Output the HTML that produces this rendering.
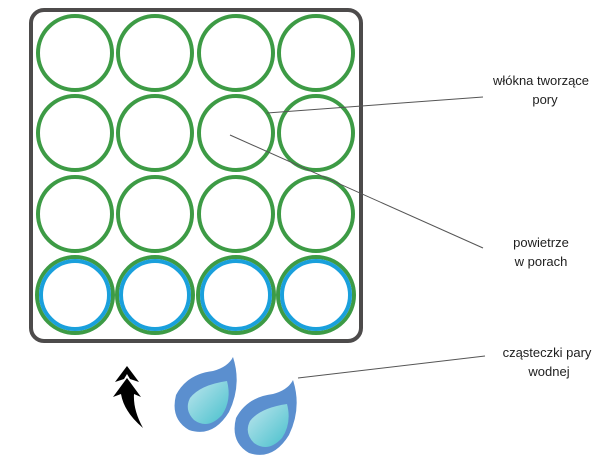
<!DOCTYPE html>
<html><head><meta charset="utf-8"><style>
html,body{margin:0;padding:0;background:#fff;width:605px;height:468px;overflow:hidden}
svg{display:block}
text{font-family:"Liberation Sans",sans-serif;font-size:13px;fill:#1e1e1e}
</style></head><body>
<svg width="605" height="468" viewBox="0 0 605 468">
<rect x="31" y="10" width="330" height="331" rx="13" fill="none" stroke="#4d4b4b" stroke-width="4"/>
<g fill="none" stroke="#3d9b45" stroke-width="4">
<circle cx="75" cy="53" r="37"/><circle cx="155" cy="53" r="37"/><circle cx="236" cy="53" r="37"/><circle cx="316" cy="53" r="37"/>
<circle cx="75" cy="133" r="37"/><circle cx="155" cy="133" r="37"/><circle cx="236" cy="133" r="37"/><circle cx="316" cy="133" r="37"/>
<circle cx="75" cy="214" r="37"/><circle cx="155" cy="214" r="37"/><circle cx="236" cy="214" r="37"/><circle cx="316" cy="214" r="37"/>
</g>
<g fill="none">
<g stroke="#3d9b45" stroke-width="4">
<circle cx="75" cy="295" r="38"/><circle cx="155" cy="295" r="38"/><circle cx="236" cy="295" r="38"/><circle cx="316" cy="295" r="38"/>
</g>
<g stroke="#1aa0dc" stroke-width="4">
<circle cx="75" cy="295" r="34"/><circle cx="155" cy="295" r="34"/><circle cx="236" cy="295" r="34"/><circle cx="316" cy="295" r="34"/>
</g>
</g>
<g stroke="#555" stroke-width="1">
<line x1="267" y1="113" x2="483" y2="97"/>
<line x1="230" y1="135" x2="483" y2="248"/>
<line x1="298" y1="378" x2="485" y2="356"/>
</g>
<text x="541" y="85" text-anchor="middle">włókna tworzące</text>
<text x="545" y="104" text-anchor="middle">pory</text>
<text x="541" y="247" text-anchor="middle">powietrze</text>
<text x="541" y="266" text-anchor="middle">w porach</text>
<text x="547" y="357" text-anchor="middle">cząsteczki pary</text>
<text x="549" y="376" text-anchor="middle">wodnej</text>
<path d="M127 366 L115 382 L124 379 L127 374 L130 379 L139 382 Z" fill="#000"/>
<path d="M127 378 L113 397 L121 394 Q124 412 143 428 Q133 410 134 394 L141 397 Z" fill="#000"/>
<defs><linearGradient id="g" x1="0" y1="0" x2="1" y2="1"><stop offset="0" stop-color="#bfe6ee"/><stop offset="1" stop-color="#47c0cc"/></linearGradient></defs>
<g>
<path d="M233 357 Q242 385 229 412 Q213 438 189 430 Q170 419 176 395 Q187 374 213 371 Q228 367 233 357 Z" fill="#5b8fcf"/>
<path d="M227 381 Q232 400 222 415 Q208 430 194 420 Q184 410 190 398 Q200 385 227 381 Z" fill="url(#g)"/>
</g>
<g>
<path d="M293 380 Q302 408 289 435 Q273 461 249 453 Q230 442 236 418 Q247 397 273 394 Q288 390 293 380 Z" fill="#5b8fcf"/>
<path d="M287 404 Q292 423 282 438 Q268 453 254 443 Q244 433 250 421 Q260 408 287 404 Z" fill="url(#g)"/>
</g>
</svg>
</body></html>
